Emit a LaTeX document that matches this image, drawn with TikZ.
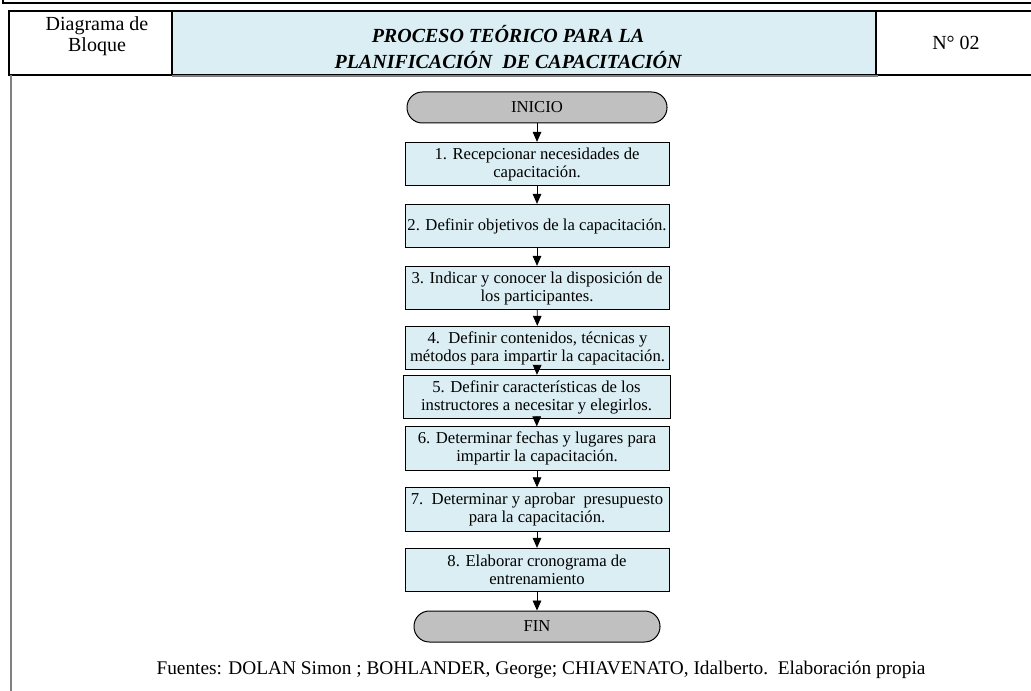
\documentclass[tikz,border=0pt]{standalone}
\usepackage{fontspec}
\setmainfont{Liberation Serif}
\usetikzlibrary{arrows.meta}
\definecolor{cellblue}{HTML}{DAEEF3}
\definecolor{termgray}{HTML}{C0C0C0}
\definecolor{framegray}{HTML}{808080}
\tikzset{
  stepbox/.style={draw=black, line width=0.75pt, fill=cellblue,
    minimum width=198pt, minimum height=32.5pt, inner sep=0pt,
    align=center, font=\fontsize{12.5pt}{13.5pt}\selectfont},
  terminal/.style={draw=black, line width=0.75pt, fill=termgray,
    rounded corners=11.5pt, minimum height=23.25pt, inner sep=0pt,
    font=\fontsize{12.5pt}{13.5pt}\selectfont},
  flow/.style={draw=black, line width=0.6pt,
    -{Triangle[length=7.5pt,width=6.5pt]}},
  headtxt/.style={align=center, inner sep=0pt,
    font=\fontsize{15pt}{15.75pt}\selectfont}
}
\begin{document}
\begin{tikzpicture}[x=0.75pt,y=-0.75pt]
\useasboundingbox (0,0) rectangle (1031,691);
% page frame above the header
\draw[line width=0.9pt] (3,0) -- (3,3) -- (1035,3);
% header row
\draw[line width=0.9pt, fill=white] (9,11) rectangle (172,75);
\draw[line width=0.9pt, fill=cellblue] (172,11) rectangle (876,75);
\draw[line width=0.9pt, fill=white] (876,11) rectangle (1040,75);
\draw[framegray, line width=1pt] (172,76) -- (878,76);
\node[headtxt] (tipo) at (97,36) {Diagrama de\\Bloque};
\node[headtxt, font=\fontsize{15pt}{19.5pt}\selectfont\bfseries\itshape]
  (titulo) at (508,47) {PROCESO TEÓRICO PARA LA\\PLANIFICACIÓN\ \ DE CAPACITACIÓN};
\node[headtxt] (numero) at (956,43) {N° 02};
% left page border
\draw[framegray, line width=1.6pt] (11,75) -- (11,691);

% flow of steps
\node[terminal, minimum width=195pt] (inicio) at (537,107.5) {INICIO};
\node[stepbox] (p1) at (537,164) {1. Recepcionar necesidades de\\capacitación.};
\node[stepbox] (p2) at (537,226) {2. Definir objetivos de la capacitación.};
\node[stepbox] (p3) at (537,288) {3. Indicar y conocer la disposición de\\los participantes.};
\node[stepbox] (p4) at (537.5,348) {4.\ \ Definir contenidos, técnicas y\\métodos para impartir la capacitación.};
\node[stepbox, minimum width=200.25pt] (p5) at (536.5,397) {5. Definir características de los\\instructores a necesitar y elegirlos.};
\node[stepbox] (p6) at (537,448.5) {6. Determinar fechas y lugares para\\impartir la capacitación.};
\node[stepbox] (p7) at (537,509.5) {7.\ \ Determinar y aprobar\ \ presupuesto\\para la capacitación.};
\node[stepbox] (p8) at (537,570) {8. Elaborar cronograma de\\entrenamiento};
\node[terminal, minimum width=184.5pt] (fin) at (537,626.5) {FIN};

\draw[flow] (inicio) -- (p1);
\draw[flow] (p1) -- (p2);
\draw[flow] (p2) -- (p3);
\draw[flow] (p3) -- (p4);
\draw[flow] (p4) -- (p5);
\draw[flow] (p5) -- (p6);
\draw[flow] (p6) -- (p7);
\draw[flow] (p7) -- (p8);
\draw[flow] (p8) -- (fin);

\node[inner sep=0pt, font=\fontsize{14.5pt}{16pt}\selectfont] (fuentes) at (541,670)
  {Fuentes: DOLAN Simon ; BOHLANDER, George; CHIAVENATO, Idalberto.\ \ Elaboración propia};
\end{tikzpicture}
\end{document}
